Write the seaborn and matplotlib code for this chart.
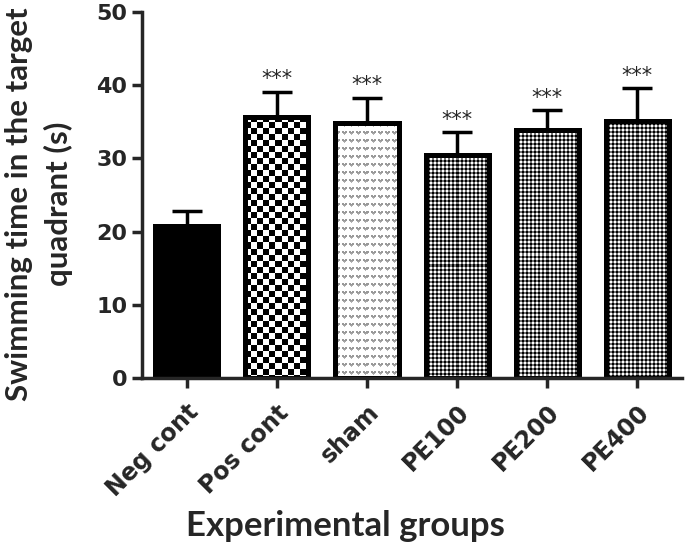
import numpy as np
import pandas as pd
import seaborn as sns
import matplotlib.pyplot as plt

# Data
groups = ["Neg cont", "Pos cont", "sham", "PE100", "PE200", "PE400"]
means = [20.8, 35.7, 34.8, 30.5, 33.9, 35.1]
sem = [2.0, 3.4, 3.5, 3.1, 2.7, 4.5]
signif = ["", "***", "***", "***", "***", "***"]

df = pd.DataFrame({"group": groups, "time": means})

sns.set_style("ticks")
plt.rcParams["font.family"] = ["DejaVu Sans"]

fig = plt.figure(figsize=(6.85, 5.47), dpi=100)
ax = fig.add_axes([0.207, 0.309, 0.789, 0.669])

sns.barplot(data=df, x="group", y="time", color="white", width=0.7,
            edgecolor="black", linewidth=3.6, errorbar=None, ax=ax)

ax.set_ylim(0, 50)
ax.set_xlim(-0.5, 5.5)

# fill textures (one value per screen pixel)
checker = np.kron([[1, 0], [0, 1]], np.ones((6, 6)))
fine = np.array([[1, 1, .45, .45],
                 [1, 1, .45, .45],
                 [.45, .45, 0, 0],
                 [.45, .45, 0, 0]])
vees = np.ones((8, 7))
vees[0, [0, 1, 3, 4]] = .6
vees[1, 0:5] = .6
vees[2, 1:4] = .65
vees[3, 2] = .7


def fill_texture(patch, tile):
    x0, y0 = patch.get_x(), patch.get_y()
    w, h = patch.get_width(), patch.get_height()
    (px0, py0), (px1, py1) = ax.transData.transform([(x0, y0), (x0 + w, y0 + h)])
    nx, ny = int(round(px1 - px0)), int(round(py1 - py0))
    ty, tx = tile.shape
    img = np.tile(tile, (ny // ty + 1, nx // tx + 1))[:ny, :nx]
    ax.imshow(img, extent=[x0, x0 + w, y0, y0 + h], cmap="gray", vmin=0, vmax=1,
              interpolation="nearest", aspect="auto", zorder=0.8)
    patch.set_facecolor("none")


textures = [None, checker, vees, fine, fine, fine]
for patch, tex in zip(ax.patches, textures):
    if tex is None:
        patch.set_facecolor("black")
    else:
        fill_texture(patch, tex)

xs = np.arange(len(groups))
ax.errorbar(xs, means, yerr=[np.zeros(len(sem)), sem], fmt="none",
            ecolor="black", elinewidth=2.5, capsize=10.8, capthick=2.5, zorder=0.5)

for x, m, s, t in zip(xs, means, sem, signif):
    if t:
        ax.text(x, m + s + 1.7, t, ha="center", va="center", fontsize=15)

ax.set_ylim(0, 50)
ax.set_xlim(-0.5, 5.5)
ax.set_yticks([0, 10, 20, 30, 40, 50])
sns.despine(ax=ax)
for sp in ["left", "bottom"]:
    ax.spines[sp].set_linewidth(2.5)
ax.tick_params(width=2.5, length=7, labelsize=16)
ax.tick_params(axis="x", labelsize=17, pad=9)
for lab in ax.get_yticklabels() + ax.get_xticklabels():
    lab.set_fontweight("bold")
plt.setp(ax.get_xticklabels(), rotation=45, ha="right", va="top",
         rotation_mode="anchor")

ax.set_ylabel("Swimming time in the target\nquadrant (s)", fontsize=22.5,
              fontweight="bold", family=["Lato", "DejaVu Sans"], linespacing=1.45)
ax.yaxis.set_label_coords(-0.128, 0.475)
ax.set_xlabel("Experimental groups", fontsize=25, fontweight="bold",
              family=["Lato", "DejaVu Sans"])
ax.xaxis.set_label_coords(0.376, -0.362)

fig.savefig("out.png", dpi=100)
